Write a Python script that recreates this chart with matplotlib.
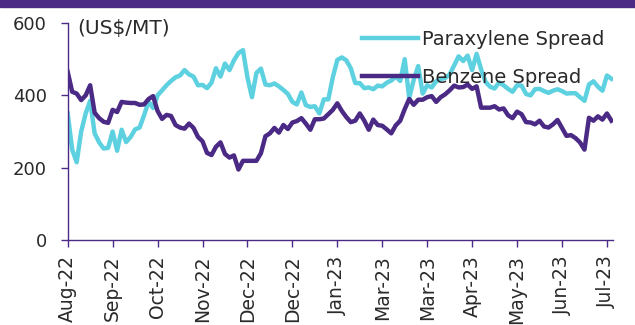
import matplotlib.pyplot as plt
from matplotlib.patches import Rectangle
import numpy as np

### Data (US$/MT), one value every ~2 trading days
paraxylene = [350, 250, 215, 300, 350, 385, 295, 270, 253, 255,
              300, 247, 305, 271, 285, 306, 311, 345, 383, 365,
              400, 414, 428, 440, 450, 455, 470, 458, 452, 428,
              429, 420, 435, 475, 452, 488, 470, 497, 517, 525,
              450, 395, 462, 474, 430, 428, 433, 425, 415, 404,
              382, 375, 408, 373, 368, 370, 350, 389, 389, 450,
              498, 505, 497, 475, 434, 434, 420, 422, 417, 427,
              425, 435, 441, 452, 440, 500, 393, 443, 481, 405,
              428, 422, 439, 445, 448, 458, 483, 508, 495, 510,
              470, 515, 472, 437, 424, 419, 436, 428, 418, 410,
              428, 427, 404, 400, 417, 418, 412, 407, 413, 417,
              412, 405, 406, 406, 395, 385, 430, 439, 424, 413,
              455, 446]

benzene = [465, 410, 405, 387, 400, 428, 352, 337, 327, 324,
           360, 354, 382, 380, 379, 379, 374, 375, 390, 398,
           357, 335, 346, 343, 318, 311, 308, 322, 310, 285,
           273, 241, 235, 258, 270, 238, 228, 234, 195, 219,
           219, 219, 219, 240, 287, 295, 310, 297, 318, 307,
           325, 329, 337, 322, 305, 334, 334, 336, 348, 360,
           378, 357, 340, 326, 330, 350, 330, 305, 333, 318,
           316, 306, 295, 317, 330, 362, 390, 374, 388, 388,
           395, 398, 382, 395, 403, 414, 427, 422, 423, 430,
           418, 425, 366, 366, 366, 370, 361, 364, 345, 337,
           355, 348, 326, 325, 320, 330, 314, 311, 320, 332,
           310, 288, 290, 282, 270, 250, 338, 330, 342, 333,
           350, 330]

tick_labels = ['Aug-22', 'Sep-22', 'Oct-22', 'Nov-22', 'Dec-22', 'Dec-22',
               'Jan-23', 'Mar-23', 'Mar-23', 'Apr-23', 'May-23', 'Jun-23',
               'Jul-23']
tick_step = 10

### Style
plt.rcParams['font.family'] = ['DejaVu Sans']
purple = '#4B2A86'
cyan = '#5ED1E1'
text_col = '#2a2a2a'

fig = plt.figure(figsize=(6.35, 3.25), dpi=100)
ax = fig.add_axes([0.1066, 0.2615, 0.8584, 0.6675])

# header band
fig.patches.append(Rectangle((0, 0.978), 1, 0.03, transform=fig.transFigure,
                             color=purple, zorder=0))

x = np.arange(len(benzene))
ax.plot(x, paraxylene, color=cyan, linewidth=3.2, label='Paraxylene Spread',
        solid_joinstyle='round', zorder=2)
ax.plot(x, benzene, color=purple, linewidth=3.2, label='Benzene Spread',
        solid_joinstyle='round', zorder=3)

ax.set_ylim(0, 600)
ax.set_xlim(0, 121.3)
ax.set_yticks([0, 200, 400, 600])
ax.set_xticks(np.arange(len(tick_labels)) * tick_step)
ax.set_xticklabels(tick_labels, rotation=90)

for side in ['top', 'right']:
    ax.spines[side].set_visible(False)
for side in ['left', 'bottom']:
    ax.spines[side].set_color(purple)
    ax.spines[side].set_linewidth(1.0)
ax.tick_params(axis='both', colors=purple, labelcolor=text_col,
               length=5, width=1.0)
ax.tick_params(axis='y', labelsize=13, pad=10)
ax.tick_params(axis='x', labelsize=13.5, pad=6)

ax.text(0.018, 0.977, '(US$/MT)', transform=ax.transAxes, fontsize=14.5,
        color=text_col, va='center', ha='left')

ax.legend(loc='upper left', bbox_to_anchor=(0.54, 0.97), frameon=False,
          fontsize=14, handlelength=2.9, handletextpad=0.2,
          borderpad=0, borderaxespad=0, labelspacing=1.0,
          labelcolor=text_col)

fig.savefig('out.png', dpi=100)
